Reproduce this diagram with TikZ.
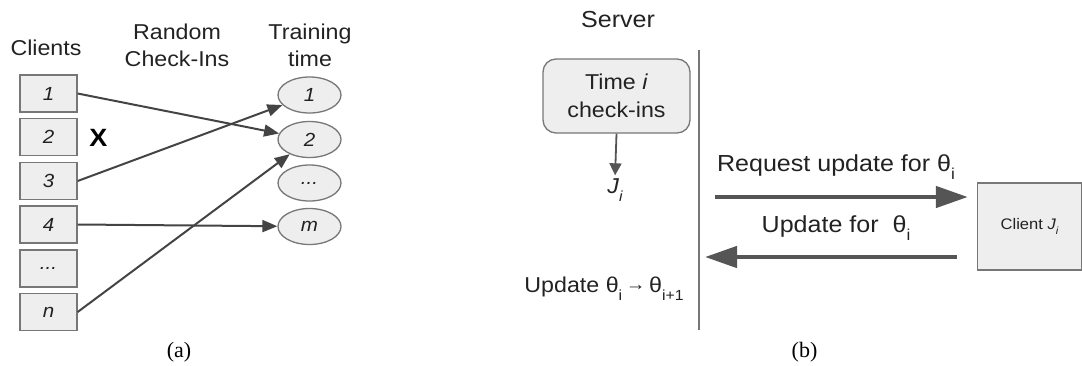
\documentclass[tikz,border=0pt]{standalone}
\usepackage{fontspec}
\setmainfont{Liberation Serif}
\newfontfamily\gfont[FakeStretch=1.08]{Liberation Sans}
\usetikzlibrary{arrows.meta,shapes.geometric}
\definecolor{boxc}{HTML}{777777}
\definecolor{fillc}{HTML}{EEEEEE}
\definecolor{arrc}{HTML}{444444}
\definecolor{bigc}{HTML}{555555}
\definecolor{linec}{HTML}{777777}
\definecolor{txtc}{HTML}{222222}
\newcommand\lsub[1]{\raisebox{-0.38em}{\scalebox{0.68}{#1}}}
\tikzset{
  lbl/.style={font=\gfont\fontsize{21.5}{27}\selectfont, text=txtc, align=center, inner sep=0pt},
  rlbl/.style={font=\gfont\fontsize{23.2}{27}\selectfont, text=txtc, align=center, inner sep=0pt},
  cbox/.style={draw=boxc, fill=fillc, line width=1.3pt, minimum width=57pt, minimum height=37pt, inner sep=0pt, text=txtc, font=\gfont\itshape\fontsize{19}{19}\selectfont},
  tnode/.style={ellipse, draw=boxc, fill=fillc, line width=1.3pt, minimum width=63pt, minimum height=36pt, inner sep=0pt, text=txtc, font=\gfont\itshape\fontsize{19}{19}\selectfont},
  conn/.style={draw=arrc, line width=2pt, -{Triangle[length=15pt,width=12pt]}},
  big/.style={draw=bigc, line width=4.5pt, -{Triangle[length=32pt,width=21pt]}},
  capt/.style={font=\fontsize{22}{22}\selectfont, inner sep=0pt},
}
\begin{document}
\begin{tikzpicture}[x=1pt,y=-1pt]
\useasboundingbox (0,0) rectangle (1082,365);
% ---------- panel (a)
\node[lbl] (hclients) at (46,48) {Clients};
\node[lbl] (hrand) at (177,45.5) {Random\\Check-Ins};
\node[lbl] (htrain) at (310,45.5) {Training\\time};

\node[cbox] (c1) at (48.5,93.5) {1};
\node[cbox] (c2) at (48.5,137) {2};
\node[cbox] (c3) at (48.5,181) {3};
\node[cbox] (c4) at (48.5,224.5) {4};
\node[cbox] (c5) at (48.5,268.5) {...};
\node[cbox] (cn) at (48.5,312) {n};

\node[font=\gfont\bfseries\fontsize{25}{25}\selectfont, text=black, inner sep=0pt] (xmark) at (98.5,137.5) {X};

\node[tnode] (e1) at (309.5,95) {1};
\node[tnode] (e2) at (309.5,139.5) {2};
\node[tnode] (e3) at (309.5,183) {...};
\node[tnode] (em) at (309.5,226.5) {m};

\draw[conn] (c1.east) -- (e2);
\draw[conn] (c3.east) -- (e1);
\draw[conn] (c4.east) -- (em);
\draw[conn] (cn.east) -- (e2);

\node[capt] (capa) at (179,352) {(a)};

% ---------- panel (b)
\node[rlbl] (server) at (618,20) {Server};
\coordinate (vtop) at (699,50);
\coordinate (vbot) at (699,330);
\draw[linec, line width=2.2pt] (vtop) -- (vbot);

\node[draw=boxc, fill=fillc, line width=1.3pt, rounded corners=13pt, minimum width=147pt, minimum height=74pt, inner sep=0pt, font=\gfont\fontsize{21.5}{28}\selectfont, text=txtc, align=center] (tbox) at (616.5,96) {Time \textit{i}\\check-ins};

\node[font=\gfont\itshape\fontsize{21.5}{21.5}\selectfont, text=txtc, inner sep=0pt] (ji) at (615,190) {J\lsub{i}};
\draw[draw=bigc, line width=1.8pt, -{Triangle[length=12pt,width=12pt]}, shorten >=3pt] (tbox.south) -- (ji.north);

\node[draw=boxc, fill=fillc, line width=1.3pt, minimum width=104pt, minimum height=87pt, inner sep=0pt, font=\gfont\fontsize{15.3}{15.3}\selectfont, text=txtc] (client) at (1029.5,226.5) {Client \textit{J\lsub{i}}};

\coordinate (reqs) at (715,197);
\coordinate (upde) at (705,257);
\draw[big, shorten >=9pt] (reqs) -- (client.west |- reqs);
\draw[big, shorten <=20pt] (client.west |- upde) -- (upde);

\node[rlbl] (reqlbl) at (836,167) {Request update for θ\lsub{i}};
\node[rlbl] (updlbl) at (836,228) {Update for\ \ θ\lsub{i}};

\node[rlbl, font=\gfont\fontsize{21.5}{21.5}\selectfont] (thlbl) at (604,289) {Update θ\lsub{i}\,\raisebox{0.1em}{\scalebox{0.85}{→}}\,θ\lsub{i+1}};

\node[capt] (capb) at (804.5,352) {(b)};
\end{tikzpicture}
\end{document}
